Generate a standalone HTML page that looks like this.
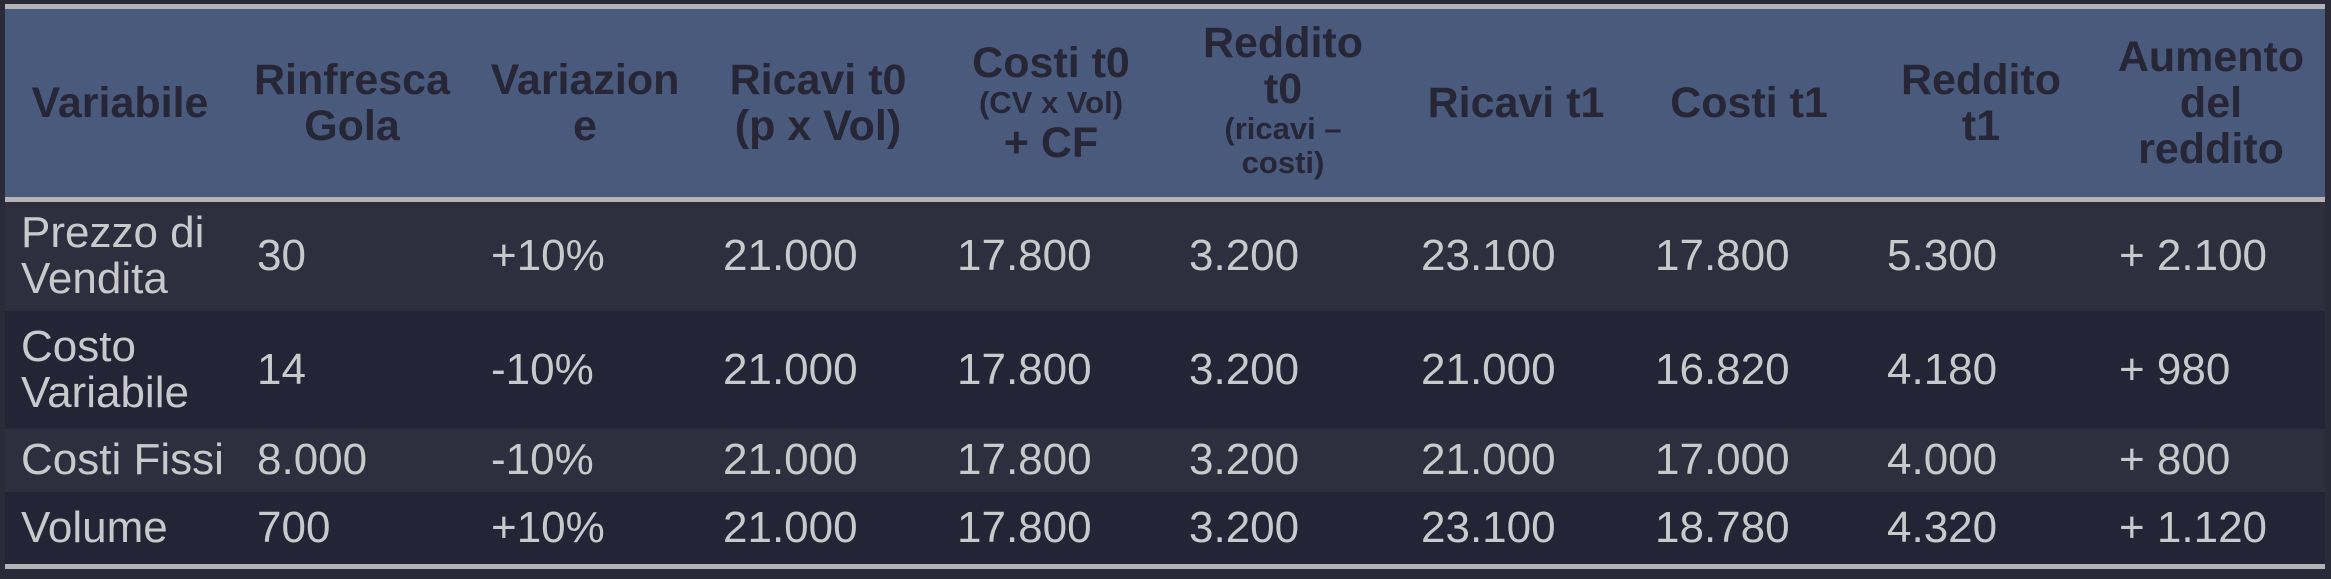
<!DOCTYPE html>
<html><head><meta charset="utf-8"><style>
html,body{margin:0;padding:0;width:2331px;height:579px;background:#2a2a38;overflow:hidden}
#wrap{position:absolute;left:5px;top:4px;width:2320px}
table{border-collapse:collapse;table-layout:fixed;width:2320px;font-family:"Liberation Sans",sans-serif}
th{background:#4a5a7d;color:#262636;font-weight:bold;font-size:43px;line-height:46px;text-align:center;padding:0;height:182px;vertical-align:middle}
th small{font-size:31px;line-height:34px;display:block}
thead tr{border-top:5px solid #b4b4b8;border-bottom:5px solid #b4b4b8}
td{color:#c9c9cc;font-size:44px;line-height:46px;padding:0 0 0 22px;vertical-align:middle;white-space:nowrap}
tr.a td{background:#2f2e3e}
tr.b td{background:#252436}
tbody tr:last-child{border-bottom:5px solid #b4b4b8}
</style></head><body>
<div id="wrap">
<table>
<colgroup><col style="width:230px"><col style="width:234px"><col style="width:232px"><col style="width:234px"><col style="width:232px"><col style="width:232px"><col style="width:234px"><col style="width:232px"><col style="width:232px"><col style="width:228px"></colgroup>
<thead><tr>
<th>Variabile</th>
<th>Rinfresca<br>Gola</th>
<th>Variazion<br>e</th>
<th>Ricavi t0<br>(p x Vol)</th>
<th>Costi t0<small>(CV x Vol)</small>+ CF</th>
<th style="padding-bottom:6px">Reddito<br>t0<small>(ricavi –<br>costi)</small></th>
<th>Ricavi t1</th>
<th>Costi t1</th>
<th>Reddito<br>t1</th>
<th>Aumento<br>del<br>reddito</th>
</tr></thead>
<tbody>
<tr class="a" style="height:111px"><td style="white-space:normal;padding-left:16px">Prezzo di Vendita</td><td>30</td><td>+10%</td><td>21.000</td><td>17.800</td><td>3.200</td><td>23.100</td><td>17.800</td><td>5.300</td><td>+ 2.100</td></tr>
<tr class="b" style="height:118px"><td style="white-space:normal;padding-left:16px">Costo Variabile</td><td>14</td><td>-10%</td><td>21.000</td><td>17.800</td><td>3.200</td><td>21.000</td><td>16.820</td><td>4.180</td><td>+ 980</td></tr>
<tr class="a" style="height:63px"><td style="padding-left:16px">Costi Fissi</td><td>8.000</td><td>-10%</td><td>21.000</td><td>17.800</td><td>3.200</td><td>21.000</td><td>17.000</td><td>4.000</td><td>+ 800</td></tr>
<tr class="b" style="height:75px"><td style="padding-left:16px">Volume</td><td>700</td><td>+10%</td><td>21.000</td><td>17.800</td><td>3.200</td><td>23.100</td><td>18.780</td><td>4.320</td><td>+ 1.120</td></tr>
</tbody></table></div>
</body></html>
